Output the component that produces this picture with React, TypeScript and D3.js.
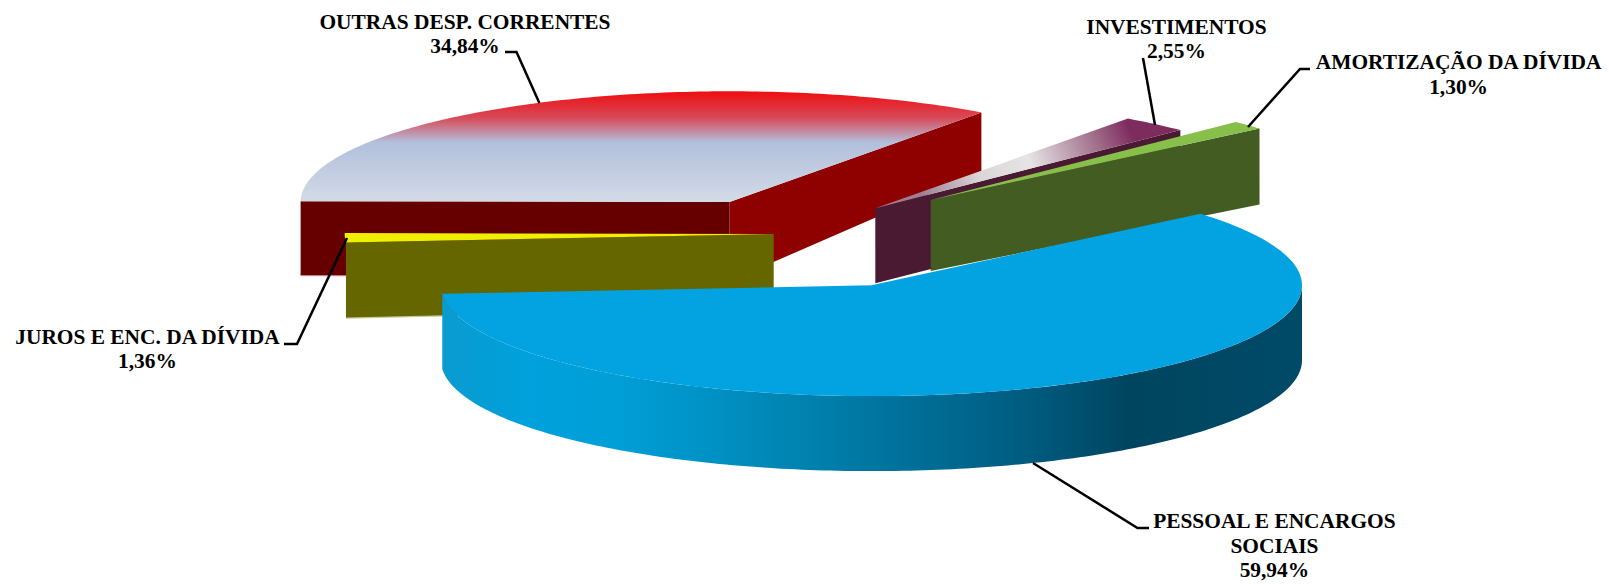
import React from "react";
import * as d3 from "d3";

// ---- data, clockwise from the cut on the right ----
const categories = ["PESSOAL E ENCARGOS|SOCIAIS", "JUROS E ENC. DA DÍVIDA", "OUTRAS DESP. CORRENTES", "INVESTIMENTOS", "AMORTIZAÇÃO DA DÍVIDA"];
const shares = [59.94, 1.36, 34.84, 2.55, 1.3];
const explodeX = [95.5, -2.3, -46.4, 99.3, 154.7];
const explodeY = [59.7, 8.4, -23.5, -17.3, -25.5];
const radiusX = [430.5, 429, 429, 430.5, 430.5];
const topFills = ["#03A3E2", "#EFEF00", "url(#redTop)", "url(#plumTop)", "#86C04A"];
const paintOrder = [2, 1, 3, 4, 0];

const W = 1609, H = 584;
const CX = 776, CY = 225.6, RY = 110.8;
const DEPTH = 75;
const FIRST_ANGLE = (49.8 * Math.PI) / 180;

const pie = d3.pie<number>().sort(null).value((d) => d).startAngle(FIRST_ANGLE).endAngle(FIRST_ANGLE + 2 * Math.PI);
const arcs = pie(shares);

const unitX = d3.scaleLinear().domain([-1, 1]);
const unitY = d3.scaleLinear().domain([-1, 1]);
const lineGen = d3.line<[number, number]>();

function project(i: number, a: number): [number, number] {
  const cx = CX + explodeX[i], cy = CY + explodeY[i];
  unitX.range([cx - radiusX[i], cx + radiusX[i]]);
  unitY.range([cy - RY, cy + RY]);
  return [unitX(Math.sin(a)), unitY(-Math.cos(a))];
}
const centre = (i: number): [number, number] => [CX + explodeX[i], CY + explodeY[i]];
function rim(i: number, a0: number, a1: number): [number, number][] {
  const n = Math.max(2, Math.ceil(Math.abs(a1 - a0) * 60));
  return d3.range(n + 1).map((k) => project(i, a0 + ((a1 - a0) * k) / n));
}
const closed = (pts: [number, number][]) => lineGen(pts) + "Z";

function Wall({ i, angle, fill, dNear = DEPTH, dFar = DEPTH, edge }: { i: number; angle: number; fill: string; dNear?: number; dFar?: number; edge?: string }) {
  const c = centre(i), e = project(i, angle);
  const lowFar: [number, number] = [e[0], e[1] + dFar];
  const lowNear: [number, number] = [c[0], c[1] + dNear];
  return (
    <>
      {edge && <path d={lineGen([lowFar, lowNear]) as string} fill="none" stroke={edge} strokeWidth={2.4} />}
      <path d={closed([c, e, lowFar, lowNear])} fill={fill} />
    </>
  );
}

function Slice({ i }: { i: number }) {
  const { startAngle: a0, endAngle: a1 } = arcs[i];
  const top = closed([centre(i), ...rim(i, a0, a1)]);
  let walls: React.ReactNode = null;
  if (i === 0) {
    const front = rim(i, Math.PI / 2, a1);
    const lower = front.map(([x, y]) => [x, y + DEPTH] as [number, number]).reverse();
    walls = <path d={closed([...front, ...lower])} fill="url(#blueWall)" />;
  } else if (i === 1) {
    walls = <Wall i={i} angle={a0} fill="#666600" dNear={74} dFar={75} edge="#C9C99A" />;
  } else if (i === 2) {
    walls = (
      <>
        <Wall i={i} angle={a1} fill="#8F0000" dNear={79} dFar={59} />
        <Wall i={i} angle={a0} fill="#660000" dNear={74} dFar={74} edge="#DDB4B8" />
      </>
    );
  } else if (i === 3) {
    walls = <Wall i={i} angle={a1} fill="#4A1A33" />;
  } else {
    walls = <Wall i={i} angle={a1} fill="#425C22" dNear={71} dFar={76} />;
  }
  return (
    <g>
      {walls}
      <path d={top} fill={topFills[i]} />
    </g>
  );
}

const pct = (v: number) => v.toFixed(2).replace(".", ",") + "%";

const labelCx = [1274.4, 147.5, 465, 1176.5, 1458.6];
const labelTop = [528, 343.5, 28.5, 33.5, 69];
const leaders: [number, number][][] = [
  [[1033, 463], [1137.5, 528], [1149, 528]],
  [[284, 344], [297, 344], [347, 238]],
  [[505, 52], [516.5, 52], [539.4, 103]],
  [[1143, 58], [1155, 125]],
  [[1310, 69], [1300, 69], [1248, 127]],
];
const LINE_H = 24.5;

export default function App() {
  return (
    <svg width={W} height={H} viewBox={`0 0 ${W} ${H}`} style={{ position: "absolute", left: 0, top: 0, background: "#fff" }}>
      <defs>
        <linearGradient id="redTop" gradientUnits="userSpaceOnUse" x1="0" y1="91" x2="0" y2="203">
          <stop offset="0" stopColor="#EE0C10" />
          <stop offset="0.24" stopColor="#D84A58" />
          <stop offset="0.46" stopColor="#B2C0DC" />
          <stop offset="1" stopColor="#D4DBE7" />
        </linearGradient>
        <linearGradient id="plumTop" gradientUnits="userSpaceOnUse" x1="1125" y1="118" x2="925" y2="205">
          <stop offset="0" stopColor="#7E2B5E" />
          <stop offset="0.18" stopColor="#A4748F" />
          <stop offset="0.48" stopColor="#E6E4E5" />
          <stop offset="0.72" stopColor="#DAD6D8" />
          <stop offset="1" stopColor="#9E7E92" />
        </linearGradient>
        <linearGradient id="blueWall" gradientUnits="userSpaceOnUse" x1="441" y1="0" x2="1301" y2="0">
          <stop offset="0" stopColor="#0A9BD0" />
          <stop offset="0.1" stopColor="#00A1DC" />
          <stop offset="0.2" stopColor="#009FD8" />
          <stop offset="0.325" stopColor="#0090C2" />
          <stop offset="0.435" stopColor="#0080AD" />
          <stop offset="0.69" stopColor="#005A7E" />
          <stop offset="0.8" stopColor="#00455F" />
          <stop offset="1" stopColor="#004A68" />
        </linearGradient>
      </defs>
      {paintOrder.map((i) => (
        <Slice key={i} i={i} />
      ))}
      {leaders.map((l, i) => (
        <path key={i} d={lineGen(l) as string} fill="none" stroke="#000" strokeWidth={2.5} />
      ))}
      {categories.map((c, i) => {
        const lines = [...c.split("|"), pct(shares[i])];
        return (
          <text key={i} fontFamily="'Liberation Serif', serif" fontWeight="bold" fontSize={21.4} textAnchor="middle" fill="#000">
            {lines.map((t, k) => (
              <tspan key={k} x={labelCx[i]} y={labelTop[i] + k * LINE_H}>{t}</tspan>
            ))}
          </text>
        );
      })}
    </svg>
  );
}
